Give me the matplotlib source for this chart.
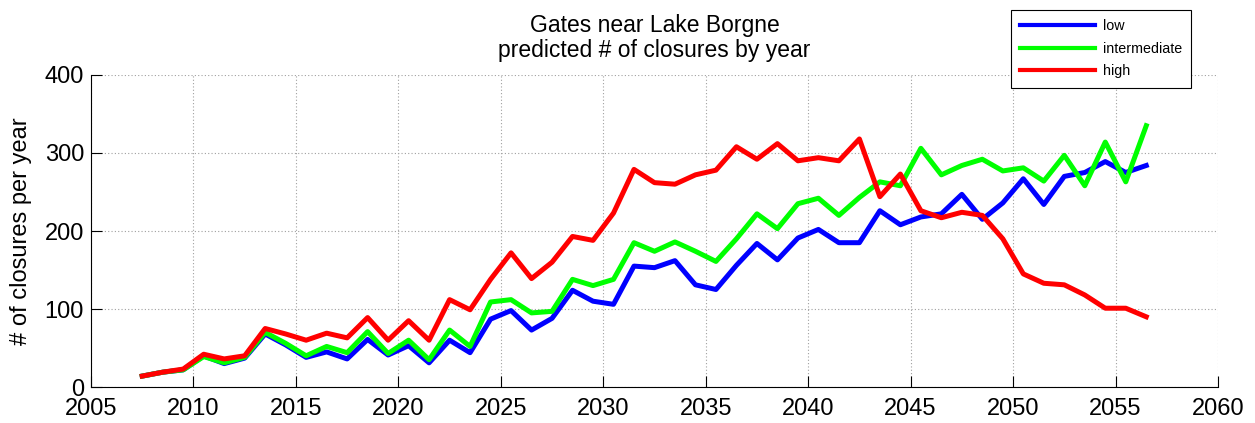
import matplotlib
matplotlib.use("Agg")
import matplotlib.pyplot as plt

plt.rcParams["font.family"] = ["Liberation Sans", "DejaVu Sans"]

# Mid-year positions of each yearly estimate
years = [2007.5, 2008.5, 2009.5, 2010.5, 2011.5, 2012.5, 2013.5, 2014.5, 2015.5, 2016.5,
         2017.5, 2018.5, 2019.5, 2020.5, 2021.5, 2022.5, 2023.5, 2024.5, 2025.5, 2026.5,
         2027.5, 2028.5, 2029.5, 2030.5, 2031.5, 2032.5, 2033.5, 2034.5, 2035.5, 2036.5,
         2037.5, 2038.5, 2039.5, 2040.5, 2041.5, 2042.5, 2043.5, 2044.5, 2045.5, 2046.5,
         2047.5, 2048.5, 2049.5, 2050.5, 2051.5, 2052.5, 2053.5, 2054.5, 2055.5, 2056.5]

# Predicted closures per year for each sea level scenario
low = [14, 19, 22, 40, 30, 37, 68, 54, 38, 45,
       36, 61, 41, 53, 31, 60, 44, 87, 98, 73,
       88, 124, 110, 106, 155, 153, 162, 131, 125, 156,
       184, 163, 191, 202, 185, 185, 226, 208, 218, 222,
       247, 215, 236, 267, 234, 270, 275, 289, 275, 284]

intermediate = [14, 19, 22, 39, 31, 38, 70, 56, 40, 52,
                44, 71, 43, 60, 35, 73, 52, 109, 112, 95,
                97, 138, 130, 138, 185, 174, 186, 174, 161, 190,
                222, 203, 235, 242, 220, 243, 263, 258, 306, 272,
                284, 292, 277, 281, 264, 297, 258, 314, 263, 335]

high = [14, 19, 23, 42, 36, 40, 75, 68, 60, 69,
        63, 89, 60, 85, 60, 112, 99, 138, 172, 139,
        160, 193, 188, 223, 279, 262, 260, 272, 278, 308,
        292, 312, 290, 294, 290, 318, 244, 273, 226, 217,
        224, 220, 190, 145, 133, 131, 118, 101, 101, 90]

xticks = [2005, 2010, 2015, 2020, 2025, 2030, 2035, 2040, 2045, 2050, 2055, 2060]
yticks = [0, 100, 200, 300, 400]

fig = plt.figure(figsize=(12.55, 4.23), dpi=100)
ax = fig.add_axes([0.0725, 0.0851, 0.898, 0.7376])

lw = 3.6
ax.plot(years, low, color=(0, 0, 1), linewidth=lw, label="low")
ax.plot(years, intermediate, color=(0, 1, 0), linewidth=lw, label="intermediate")
ax.plot(years, high, color=(1, 0, 0), linewidth=lw, label="high")

ax.set_xlim(2005, 2060)
ax.set_ylim(0, 400)
ax.set_xticks(xticks)
ax.set_yticks(yticks)
ax.tick_params(direction="in", length=8, width=0.8, labelsize=17,
               top=False, right=False)
ax.tick_params(axis="x", pad=8)
ax.tick_params(axis="y", pad=5)
ax.grid(True, linestyle=(0, (1, 2)), color="#a0a0a0", linewidth=0.8)
ax.spines["top"].set_visible(False)
ax.spines["right"].set_visible(False)
for s in ("left", "bottom"):
    ax.spines[s].set_linewidth(0.8)

ax.set_ylabel("# of closures per year", fontsize=17, labelpad=9)
ax.set_title("Gates near Lake Borgne\npredicted # of closures by year",
             fontsize=16.5, pad=13, linespacing=1.1)

leg = fig.legend(loc="upper left", bbox_to_anchor=(1011 / 1255, 1 - 10 / 423),
                 borderaxespad=0, fontsize=10.3, handlelength=5.2,
                 handletextpad=0.55, labelspacing=0.6, borderpad=0.65,
                 fancybox=False, framealpha=1, edgecolor="black")
leg.get_frame().set_linewidth(0.8)
for line in leg.get_lines():
    line.set_linewidth(3.0)

fig.savefig("out.png", dpi=100)
